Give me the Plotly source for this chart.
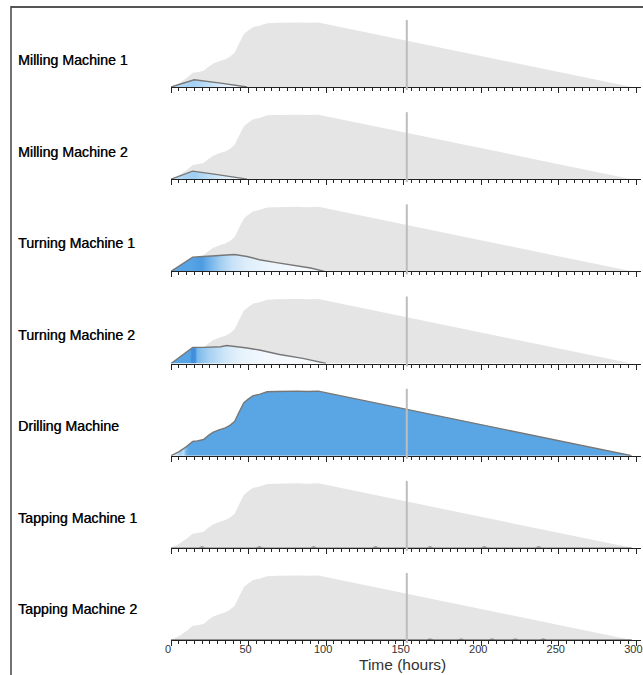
import plotly.graph_objects as go

# ---- data -------------------------------------------------------------
machines = ["Milling Machine 1", "Milling Machine 2", "Turning Machine 1",
            "Turning Machine 2", "Drilling Machine", "Tapping Machine 1",
            "Tapping Machine 2"]

# overall load envelope (hours, load)
env_t = [0, 5, 10, 14, 17, 21, 24, 27, 31, 35, 38, 41, 44, 47, 50, 53, 57, 62, 68, 75, 82, 88, 95, 297]
env_v = [0, 6, 14, 22, 23, 25, 31, 36, 40, 43, 47, 53, 68, 82, 88, 93, 95, 99, 99.5, 100, 100, 99.5, 100, 0]

mill1_t = [0, 15, 32, 49]
mill1_v = [0, 11.3, 6, 0]

mill2_t = [0, 14, 30, 46, 49]
mill2_v = [0, 12.4, 7, 2, 0]

turn1_t = [0, 14, 21, 27, 36, 41, 49, 57, 68, 79, 90, 99]
turn1_v = [0, 22, 23, 24, 26, 26, 23, 18, 13.5, 9.3, 5.2, 0]

turn2_t = [0, 14, 21, 32, 36, 40, 49, 57, 70, 85, 100]
turn2_v = [0, 25, 25, 26, 28, 27, 24, 21, 14, 8, 0]

drill_t = env_t
drill_v = env_v

tap1_t = [0, 18, 20, 22, 55, 57, 59, 90, 92, 94, 130, 132, 134, 165, 167, 169, 200, 202, 204, 235, 237, 239, 297]
tap1_v = [0, 0, 1.2, 0, 0, 1.2, 0, 0, 1.2, 0, 0, 1.2, 0, 0, 1.2, 0, 0, 1.2, 0, 0, 1.2, 0, 0]

tap2_t = [0, 150, 165, 167, 169, 185, 187, 189, 205, 207, 209, 220, 222, 224, 238, 240, 242, 297]
tap2_v = [0, 0, 0, 1.3, 0, 0, 1.3, 0, 0, 1.3, 0, 0, 1.3, 0, 0, 1.3, 0, 0]

series_t = [mill1_t, mill2_t, turn1_t, turn2_t, drill_t, tap1_t, tap2_t]
series_v = [mill1_v, mill2_v, turn1_v, turn2_v, drill_v, tap1_v, tap2_v]

current_time = 152
x_max = 303
x_ticks = [0, 50, 100, 150, 200, 250, 300]

# ---- styling ------------------------------------------------------------
W, H = 643, 675
ML, MR = 171, 2
plot_w = W - ML - MR
row_gap = 92.17
first_base = 87          # px from top of first row's baseline
row_h = 70               # px height of each row's plotting band
y_top = 108.5            # y range so that a load of 100 sits 64.5 px up

gradients = [
    dict(start=0, stop=49, colorscale=[[0, "#bcdcf6"], [0.3, "#a3d0f3"], [0.65, "#d9ebfa"], [1, "#ffffff"]]),
    dict(start=0, stop=49, colorscale=[[0, "#bcdcf6"], [0.3, "#9ecdf3"], [0.65, "#d6eafa"], [1, "#ffffff"]]),
    dict(start=0, stop=99, colorscale=[[0, "#5aa6e6"], [0.13, "#56a3e5"], [0.2, "#4d9be1"],
                                       [0.26, "#76b6eb"], [0.32, "#a0cdf1"], [0.4, "#c8e2f8"],
                                       [0.5, "#dfeefb"], [0.65, "#edf5fd"], [1, "#f8fbfe"]]),
    dict(start=0, stop=100, colorscale=[[0, "#5aa6e6"], [0.12, "#56a3e5"], [0.135, "#3f8fdc"],
                                        [0.155, "#3f8fdc"], [0.17, "#7ab9eb"], [0.25, "#a9d2f3"],
                                        [0.35, "#cfe6f8"], [0.45, "#e6f2fc"], [0.6, "#f3f8fe"], [1, "#fafcff"]]),
    dict(start=0, stop=300, colorscale=[[0, "#e2eef8"], [0.013, "#c9e2f6"], [0.02, "#9fcdf1"],
                                        [0.027, "#bcdcf5"], [0.033, "#6fb2e8"], [0.04, "#5aa6e4"],
                                        [1, "#5aa6e4"]]),
    dict(start=0, stop=300, colorscale=[[0, "#5aa6e4"], [1, "#5aa6e4"]]),
    dict(start=0, stop=300, colorscale=[[0, "#5aa6e4"], [1, "#5aa6e4"]]),
]

def py(px):
    """pixel row (from top) -> paper y"""
    return (H - px) / H

def pxx(px):
    """pixel column -> paper x"""
    return (px - ML) / plot_w

fig = go.Figure()
shapes = []
annotations = []
layout_axes = {}

for i, name in enumerate(machines):
    n = i + 1
    xa = "x" if n == 1 else f"x{n}"
    ya = "y" if n == 1 else f"y{n}"
    base = first_base + row_gap * i

    fig.add_trace(go.Scatter(
        x=env_t, y=env_v, xaxis=xa, yaxis=ya, mode="lines",
        line=dict(width=0, color="#e5e5e5"), fill="tozeroy", fillcolor="#e5e5e5",
        hoverinfo="skip", showlegend=False))

    fig.add_trace(go.Scatter(
        x=series_t[i], y=series_v[i], xaxis=xa, yaxis=ya, mode="lines",
        line=dict(width=1.4, color="#777777"), fill="tozeroy",
        fillgradient=dict(type="horizontal", **gradients[i]),
        name=name, showlegend=False))

    layout_axes[f"xaxis{'' if n == 1 else n}"] = dict(
        domain=[0, 1], anchor=ya, range=[0, x_max], showgrid=False, zeroline=False,
        showline=True, linecolor="#222222", linewidth=1,
        ticks="outside", ticklen=5, tickwidth=1, tickcolor="#222222",
        tickmode="array", tickvals=x_ticks,
        minor=dict(ticks="outside", ticklen=3, tickwidth=1, tickcolor="#222222", dtick=5, tick0=0),
        showticklabels=(n == len(machines)),
        ticklabeloverflow="allow", ticklabelstandoff=-6, ticklabelshift=-3,
        tickfont=dict(family="Liberation Sans, Arial, sans-serif", size=11, color="#333333"),
        fixedrange=True)
    layout_axes[f"yaxis{'' if n == 1 else n}"] = dict(
        domain=[py(base), py(base - row_h)], anchor=xa, range=[0, y_top],
        visible=False, fixedrange=True)

    shapes.append(dict(type="line", xref=xa, yref="paper",
                       x0=current_time, x1=current_time,
                       y0=py(base + 3), y1=py(base - 67),
                       line=dict(color="#bdbdbd", width=2), layer="above"))

    annotations.append(dict(text=name, xref="paper", yref="paper",
                            x=pxx(15.5), y=py(60 + 91.5 * i), xanchor="left", yanchor="middle",
                            showarrow=False,
                            font=dict(family="Liberation Sans, Arial, sans-serif", size=14.2,
                                      color="#000000", shadow="0.45px 0 0 rgba(0,0,0,0.75)")))

# axis title
annotations.append(dict(text="Time (hours)", xref="paper", yref="paper",
                        x=pxx(402), y=py(664), xanchor="center", yanchor="middle", showarrow=False,
                        font=dict(family="Liberation Sans, Arial, sans-serif", size=15.5, color="#333333")))

# outer frame (top and left)
shapes.append(dict(type="line", xref="paper", yref="paper",
                   x0=pxx(11), x1=pxx(W + 2), y0=py(7), y1=py(7),
                   line=dict(color="#555555", width=2)))
shapes.append(dict(type="line", xref="paper", yref="paper",
                   x0=pxx(11), x1=pxx(11), y0=py(6), y1=py(H + 2),
                   line=dict(color="#444444", width=1.5)))

fig.update_layout(
    width=W, height=H,
    margin=dict(l=ML, r=MR, t=0, b=0, autoexpand=False),
    paper_bgcolor="white", plot_bgcolor="white",
    shapes=shapes, annotations=annotations,
    **layout_axes)

fig.write_html("out.html")
